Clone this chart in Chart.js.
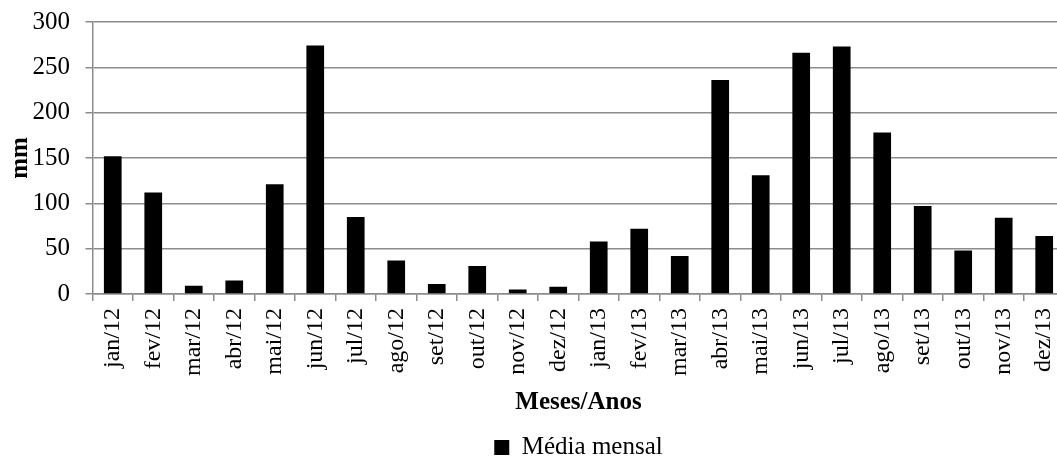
<!DOCTYPE html>
<html>
<head>
<meta charset="utf-8">
<script src="https://cdn.jsdelivr.net/npm/chart.js@4.4.0/dist/chart.umd.min.js"></script>
<style>
    html, body { margin: 0; padding: 0; background: #fff; overflow: hidden; }
    #wrap { width: 1080px; height: 470px; }
</style>
</head>
<body>
<div id="wrap"><canvas id="rainChart" width="1080" height="470"></canvas></div>
<script>
// meses do período
const meses = ['jan/12', 'fev/12', 'mar/12', 'abr/12', 'mai/12', 'jun/12', 'jul/12', 'ago/12', 'set/12', 'out/12', 'nov/12', 'dez/12',
               'jan/13', 'fev/13', 'mar/13', 'abr/13', 'mai/13', 'jun/13', 'jul/13', 'ago/13', 'set/13', 'out/13', 'nov/13', 'dez/13'];
// precipitação média mensal (mm)
const mediaMensal = [152, 112, 9, 15, 121, 274, 85, 37, 11, 31, 5, 8,
                     58, 72, 42, 236, 131, 266, 273, 178, 97, 48, 84, 64];
const yTicks = [0, 50, 100, 150, 200, 250, 300];

const serif = "'Liberation Serif', 'Times New Roman', serif";
const cinza = '#8c8c8c';
Chart.defaults.font.family = serif;
Chart.defaults.color = '#000';

const ctx = document.getElementById('rainChart').getContext('2d');
const chart = new Chart(ctx, {
    type: 'bar',
    data: {
        labels: meses,
        datasets: [{
            label: 'Média mensal',
            data: mediaMensal,
            backgroundColor: '#000',
            barPercentage: 0.437,
            categoryPercentage: 1
        }]
    },
    options: {
        responsive: false,
        animation: false,
        layout: { padding: { top: 22, right: 0, bottom: 0, left: 0 } },
        plugins: {
            tooltip: { enabled: false },
            legend: {
                position: 'bottom',
                fullSize: false,
                labels: {
                    font: { size: 25 },
                    boxWidth: 15,
                    boxHeight: 15,
                    padding: 15
                }
            }
        },
        scales: {
            x: {
                afterFit: s => { s.height = 126; },
                grid: { display: true, drawOnChartArea: false, tickLength: 7, color: cinza, lineWidth: 1.5 },
                border: { color: cinza, width: 1.5 },
                ticks: { font: { size: 24 }, minRotation: 90, maxRotation: 90, padding: 7, autoSkip: false },
                title: { display: true, text: 'Meses/Anos', font: { size: 25, weight: 'bold' }, padding: { top: 0, bottom: 2 } }
            },
            y: {
                min: 0,
                max: 300,
                afterFit: s => { s.width = 92.5; s.paddingTop = 0; s.paddingBottom = 0; },
                afterBuildTicks: s => { s.ticks = yTicks.map(v => ({ value: v })); },
                grid: { color: cinza, lineWidth: 1.5, tickLength: 7 },
                border: { color: cinza, width: 1.5 },
                ticks: { font: { size: 25 }, padding: 15.5 },
                title: { display: true, text: 'mm', font: { size: 25, weight: 'bold' }, padding: { top: 6, bottom: 0 } }
            }
        }
    }
});
</script>
</body>
</html>
